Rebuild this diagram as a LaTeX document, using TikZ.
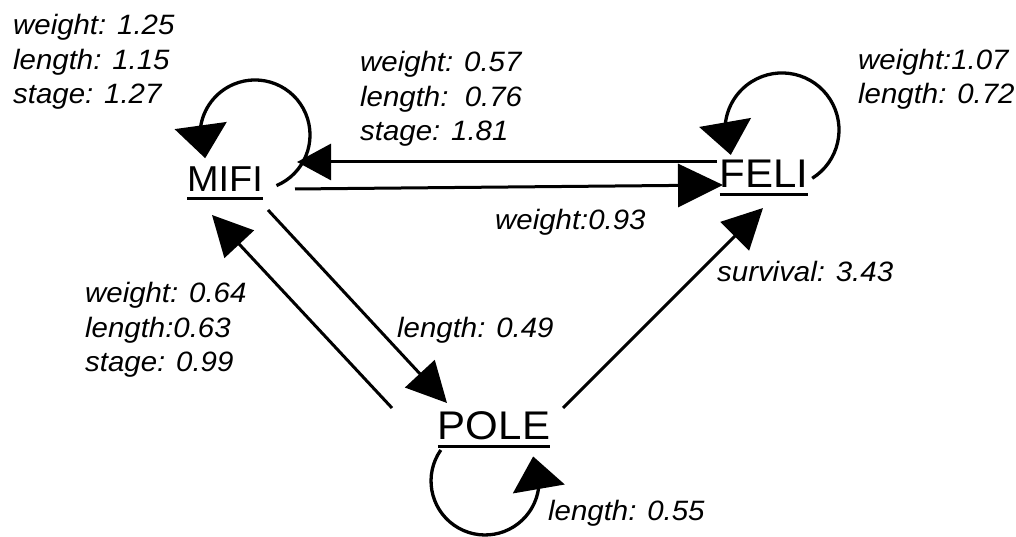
\documentclass[tikz,border=0pt]{standalone}
\usepackage{fontspec}
\setsansfont{Liberation Sans}[FakeStretch=1.05]
\usetikzlibrary{arrows.meta, bending}
\newcommand\ulname[1]{\setbox0=\hbox{#1}\rlap{\copy0}\rule[-8pt]{\wd0}{2.6pt}}

\begin{document}
\begin{tikzpicture}[
    x=1pt, y=1pt,
    font=\sffamily,
    spnode/.style={inner sep=0pt, anchor=base, font=\sffamily\fontsize{40}{40}\selectfont},
    wlabel/.style={inner sep=0pt, anchor=base west, align=left, font=\sffamily\itshape\fontsize{28}{34.5}\selectfont},
    link/.style={line width=3pt, -{Triangle[length=40pt,width=40pt]}},
    selfloop/.style={line width=3.3pt, -{Triangle[length=33pt,width=52pt]}}
  ]

  \path[use as bounding box, fill=white] (0,0) rectangle (1016,537);

  \node (mifi) [spnode, font=\sffamily\fontsize{36}{36}\selectfont] at (225,345) {\ulname{MIFI}};
  \node (feli) [spnode] at (764,349) {\ulname{FELI}};
  \node (pole) [spnode] at (494,97) {\ulname{POLE}};

  % straight links
  \draw[link, -{Triangle[length=34pt,width=36pt]}] ([shift={(-47,26)}]feli.base) -- ([shift={(72,30)}]mifi.base);
  \draw[link, -{Triangle[length=45pt,width=43pt]}] ([shift={(70,3)}]mifi.base) -- ([shift={(-41,3)}]feli.base);
  \draw[link] ([shift={(43,-18)}]mifi.base) -- ([shift={(-47,37)}]pole.base);
  \draw[link] ([shift={(-102,32)}]pole.base) -- ([shift={(-13,-23)}]mifi.base);
  \draw[link] ([shift={(69,32)}]pole.base) -- ([shift={(-1,-20)}]feli.base);

  % self loops
  \draw[selfloop] ([shift={(51.5,6.4)}]mifi.base) arc[start angle=-67, end angle=205, radius=55];
  \draw[selfloop] ([shift={(48.2,9.7)}]feli.base) arc[start angle=-58, end angle=206, radius=57];
  \draw[selfloop] ([shift={(-53.2,-10)}]pole.base) arc[start angle=145, end angle=387, radius=54];

  % weights (anchored on the last line)
  \node (lmm) [wlabel] at (13,433) {weight: 1.25\\length: 1.15\\stage: 1.27};
  \node (lfm) [wlabel] at (360,396) {weight: 0.57\\length:\ \ 0.76\\stage: 1.81};
  \node (lff) [wlabel] at (858,433) {weight:1.07\\length: 0.72};
  \node (lmf) [wlabel] at (495,307) {weight:0.93};
  \node (lpm) [wlabel] at (85,165) {weight: 0.64\\length:0.63\\stage: 0.99};
  \node (lpf) [wlabel] at (717,255) {survival: 3.43};
  \node (lmp) [wlabel] at (397,199) {length: 0.49};
  \node (lpp) [wlabel] at (548,16) {length: 0.55};

\end{tikzpicture}
\end{document}
